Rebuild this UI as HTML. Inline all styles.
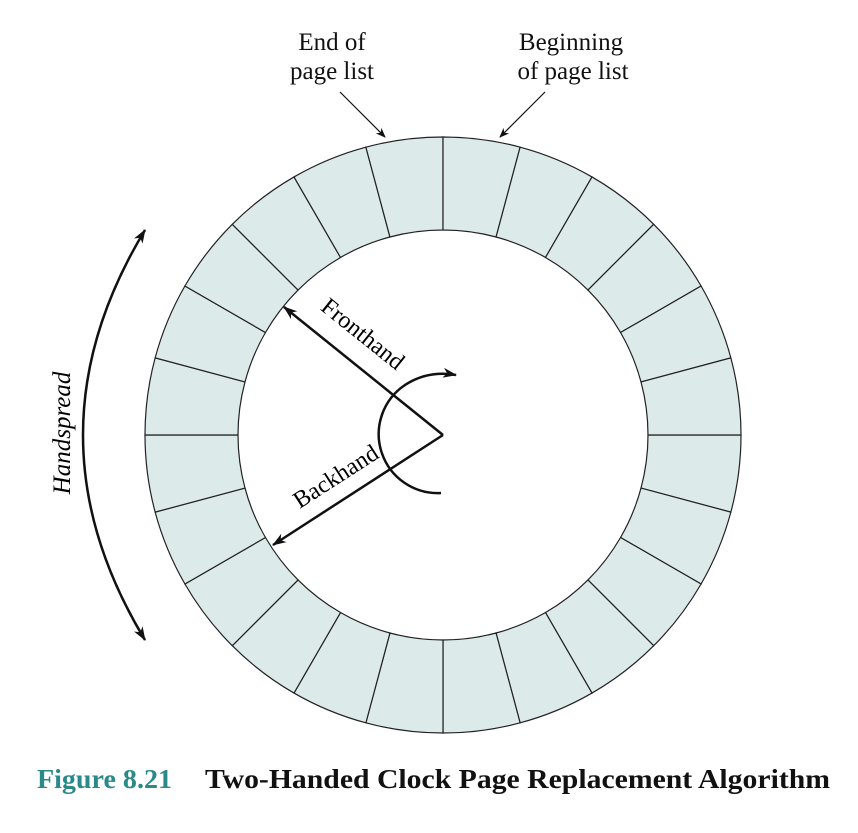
<!DOCTYPE html>
<html><head><meta charset="utf-8"><style>
body{margin:0;background:#fff}
svg text{font-family:"Liberation Serif",serif}
</style></head><body>
<svg width="858" height="828" viewBox="0 0 858 828">
<defs>
<marker id="ah" markerWidth="10" markerHeight="8" refX="9" refY="4" orient="auto" markerUnits="userSpaceOnUse"><path d="M0,0 L10,4 L0,8 L3,4 Z" fill="#111"/></marker>
<marker id="ah2" markerWidth="14" markerHeight="10" refX="13" refY="5" orient="auto-start-reverse" markerUnits="userSpaceOnUse"><path d="M0,0 L14,5 L0,10 L4,5 Z" fill="#111"/></marker>
</defs>
<g id="ring"></g>
<g font-size="25" fill="#111" text-anchor="middle">
<text x="332" y="50">End of</text><text x="332" y="79">page list</text>
<text x="571" y="50">Beginning</text><text x="573" y="79">of page list</text>
</g>
<line x1="340" y1="92" x2="385" y2="137" stroke="#111" stroke-width="1.2" marker-end="url(#ah)"/>
<line x1="545" y1="92" x2="500" y2="137" stroke="#111" stroke-width="1.2" marker-end="url(#ah)"/>
<line x1="443" y1="435" x2="284" y2="307" stroke="#111" stroke-width="2.5" marker-end="url(#ah2)"/>
<line x1="443" y1="435" x2="273" y2="545" stroke="#111" stroke-width="2.5" marker-end="url(#ah2)"/>
<text x="358" y="340" font-size="24" text-anchor="middle" transform="rotate(38.7 358 340)">Fronthand</text>
<text x="340" y="483" font-size="24" text-anchor="middle" transform="rotate(-32.8 340 483)">Backhand</text>
<path d="M441,493 A59,59 0 0 1 405,385 Q428,370 456,375" fill="none" stroke="#111" stroke-width="2.5" marker-end="url(#ah2)"/>
<path d="M145,230 Q21,435 145,640" fill="none" stroke="#111" stroke-width="2.5" marker-start="url(#ah2)" marker-end="url(#ah2)"/>
<text x="70" y="433" font-size="25" font-style="italic" text-anchor="middle" transform="rotate(-90 70 433)">Handspread</text>
<text x="37" y="788" font-size="27" font-weight="bold" fill="#2a8a8a" textLength="135" lengthAdjust="spacingAndGlyphs">Figure 8.21</text>
<text x="205" y="788" font-size="27" font-weight="bold" fill="#111" textLength="625" lengthAdjust="spacingAndGlyphs">Two-Handed Clock Page Replacement Algorithm</text>
</svg>
<script>
const cx=443,cy=435,R=298,r=205,N=24;
const g=document.getElementById('ring');
const ns='http://www.w3.org/2000/svg';
for(let i=0;i<N;i++){
 const a0=i*2*Math.PI/N,a1=(i+1)*2*Math.PI/N;
 const p=(rad,a)=>[(cx+rad*Math.cos(a)).toFixed(2),(cy+rad*Math.sin(a)).toFixed(2)];
 const [x0,y0]=p(R,a0),[x1,y1]=p(R,a1),[x2,y2]=p(r,a1),[x3,y3]=p(r,a0);
 const el=document.createElementNS(ns,'path');
 el.setAttribute('d',`M${x0},${y0} A${R},${R} 0 0 1 ${x1},${y1} L${x2},${y2} A${r},${r} 0 0 0 ${x3},${y3} Z`);
 el.setAttribute('fill','#ddeaea');el.setAttribute('stroke','#222');el.setAttribute('stroke-width','1.2');
 
 
 g.appendChild(el);
}
</script>
</body></html>
